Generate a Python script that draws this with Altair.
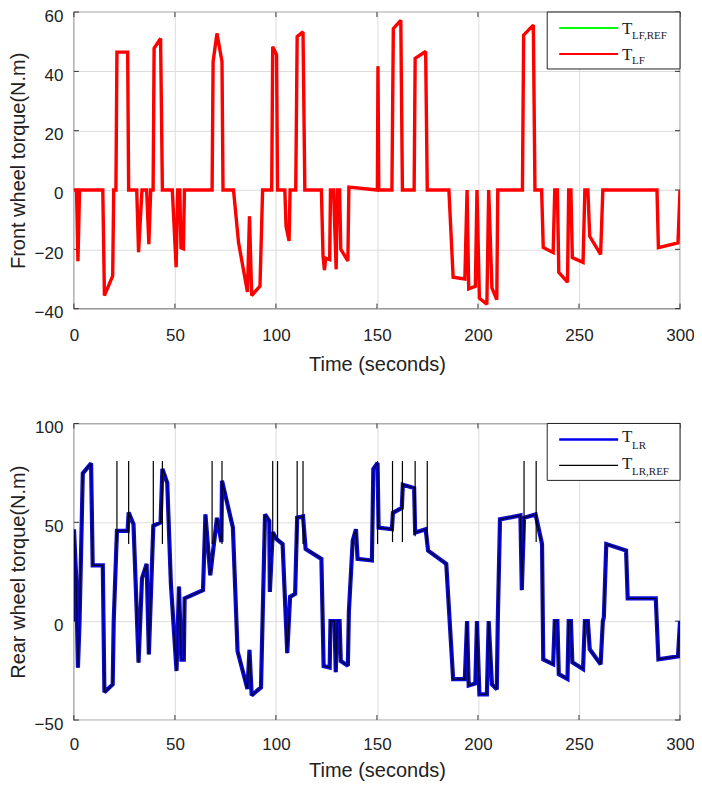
import altair as alt
import pandas as pd

# ---------------- data ----------------
front_time = [0, 1.3, 2.0, 2.8, 14.3, 15.1, 19.2, 19.7, 20.8,
              21.3, 26.6, 27.1, 31.1, 32.0, 33.7, 36.0, 37.1, 38.0, 39.2,
              39.7, 42.9, 43.8, 48.7, 50.6, 51.4, 52.4, 53.0, 54.2, 54.7, 68.4,
              68.9, 70.8, 73.3, 73.8, 79.0, 81.5, 85.9, 86.9, 88.0, 92.1, 93.4, 97.9,
              98.4, 100.3, 100.8, 104.4, 105.0, 106.5, 107.0, 109.8,
              110.5, 113.4, 114.3, 122.5, 123.3, 124.0, 124.6, 126.6, 127.0, 128.5, 129.8, 130.4, 131.5, 132.1, 135.6, 136.1,
              150.2, 150.5, 150.9, 157.4, 158.1, 161.8, 162.6, 168.4, 168.9, 174.1, 174.9, 185.6,
              187.7, 193.5, 194.6, 195.4, 198.7, 199.5, 200.7, 204.4, 205.3, 206.9, 209.3, 209.8, 222.0,
              222.6, 227.4, 228.2, 231.5, 232.3, 237.2, 238.0, 239.3, 240.0, 244.3, 244.9, 246.0, 246.7,
              252.0, 252.9, 254.4, 255.3, 260.7, 261.8, 288.6, 289.3, 299.0, 300.0]
front_torque = [0, 0, -24, 0, 0, -35.6, -29, 0, 0,
                46.5, 46.5, 0, 0, -21, 0, 0, -18.3, 0, 0,
                47.8, 51.1, 0, 0, -26, 0, 0, -19.5, -19.8, 0, 0,
                43.3, 52.8, 43.3, 0, 0, -17.8, -34.4, -8.9, -35.6, -32.4, 0, 0,
                48.3, 45.6, 0, 0, -12.2, -17.2, 0, 0,
                51.7, 53.3, 0, 0, -22.2, -27, -23, -23.5, 0, 0, -26.7, 0, 0, -20, -23.9, 1,
                0, 41.7, 0, 0, 54.4, 57.2, 0, 0, 44.4, 46.7, 0, 0,
                -29.4, -30, 0, -33.3, -32.5, 0, -36.5, -38.5, 0, -33, -37, 0, 0,
                52.2, 55.6, 0, 0, -19.4, -21.1, 0, 0, -27.8, -31.1, 0, 0, -22.8,
                -24.4, 0, 0, -15.6, -21.7, 0, 0, -19.4, -17.8, 0]

rear_time = [0, 0.05, 1.1, 2.0, 2.8, 4.4, 8.5, 9.3, 14.3, 15.1, 19.2, 19.7, 21.3, 26.6,
             27.1, 29.5, 32.0, 33.7, 36.0, 37.1, 39.3, 42.9, 43.8, 46.2,
             48.0, 50.8, 52.0, 53.2, 54.4, 54.8, 63.9, 65.1, 67.5,
             70.8, 73.0, 73.3, 78.7, 81.0, 85.9, 86.9, 88.0, 92.6, 94.6,
             96.7, 97.0, 98.4, 100.3, 103.3, 105.6, 107.0, 109.5,
             110.5, 113.4, 114.7, 122.5, 123.6, 126.6, 127.0, 129.0, 129.6, 130.4,
             131.5, 132.1, 135.6, 136.1, 138.0, 139.6, 140.4, 147.5,
             148.2, 150.3, 150.8, 157.4, 157.9, 162.3, 162.8, 168.4, 168.9, 174.1,
             175.3, 184.3, 187.7, 193.5, 194.6, 195.4, 198.7, 199.5, 200.7, 204.4,
             205.3, 206.9, 209.3, 209.8,
             210.9, 221.0, 221.7, 222.8, 228.5, 231.7, 232.3, 237.2, 238.0, 239.3,
             240.0, 244.3, 244.9, 246.0, 246.7, 252.0, 252.9, 254.4, 255.3, 260.7,
             261.8, 262.3, 263.5, 273.3, 274.1, 288.0, 289.3, 299.0, 300.0]
rear_torque = [0, 46.5, 22.3, -23.5, 0, 74.8, 79.8, 28.2, 28.2, -36, -32, 0, 45.7, 45.7,
               55, 49, -21, 21.7, 29, -16.8, 48.2, 50, 77, 70,
               19, -25.2, 17.5, -19.5, -19.5, 11.5, 15.7, 54, 23.2,
               52.3, 40, 71, 47.3, -15.2, -34.3, -14.5, -37.5, -33.5, 54,
               50.7, 14.8, 45, 41.5, 39, -16.2, 12.3, 13.8,
               52.3, 53, 36.5, 31.5, -22.7, -23.5, 0, 0, -25.8, 0,
               0, -20.2, -22.5, 4.8, 40.7, 46.5, 31.5, 30.7,
               77, 80, 47.3, 46.5, 54.8, 57.3, 69, 67.3, 44.8, 46.5,
               35.7, 29, -29.3, -29.3, 0, -32.5, -31.5, 0, -37, -37,
               0, -32, -34.5, 0,
               51.5, 53.5, 15.7, 52.3, 54, 39, -19.3, -21.8, 0, 0,
               -26.8, -29.2, 0, 0, -20.8, -24.2, 0, 0, -14.2, -21.8,
               0, 2, 39, 35.7, 11.5, 11.5, -19.3, -17.8, 0]

# saturation spikes of the rear reference signal
spike_time = [21.3, 27.1, 39.3, 43.8, 68.4, 73.3, 98.4, 100.8, 110.5, 113.4,
              150.3, 157.7, 162.6, 168.9, 174.9, 222.8, 228.8]
spike_high = [81, 81, 81, 81, 81, 81, 81, 81, 81, 81, 81, 81, 81, 81, 81, 81, 81]
spike_low = [40, 39, 43, 39, 39, 39, 40, 40, 39, 39, 39, 40, 40, 43, 39, 40, 40]

x_ticks = [0, 50, 100, 150, 200, 250, 300]
front_ticks = [-40, -20, 0, 20, 40, 60]
rear_ticks = [-50, 0, 50, 100]

# ---------------- tables ----------------
front = pd.DataFrame({"t": front_time, "v": front_torque, "i": range(len(front_time))})
rear = pd.DataFrame({"t": rear_time, "v": rear_torque, "i": range(len(rear_time))})
spikes = pd.DataFrame({"t": spike_time, "v": spike_high, "v2": spike_low})

W, H = 607, 297
FONT = "Liberation Sans"
SERIF = "Liberation Serif"
TXT = "#222222"
XT = "Time (seconds)"

xs = alt.Scale(domain=[0, 300], nice=False, zero=False)


def make_panel(ydomain, yticks, ytitle, xlabel_pad, xtitle_pad):
    ys = alt.Scale(domain=ydomain, nice=False, zero=False)
    yaxis = alt.Axis(values=yticks, title=ytitle, format="d")
    xaxis = alt.Axis(values=x_ticks, title=XT, format="d",
                     labelPadding=xlabel_pad, titlePadding=xtitle_pad)

    def X():
        return alt.X("t:Q", scale=xs, axis=xaxis, title=XT)

    def Y():
        return alt.Y("v:Q", scale=ys, axis=yaxis, title=ytitle)

    xt = pd.DataFrame({"t": x_ticks})
    yt = pd.DataFrame({"v": yticks})
    tick_style = dict(color="#333333", strokeWidth=1)
    deco = [
        alt.Chart(xt).mark_rule(**tick_style).encode(x=X(), y=alt.value(H), y2=alt.value(H - 5)),
        alt.Chart(xt).mark_rule(**tick_style).encode(x=X(), y=alt.value(0), y2=alt.value(5)),
        alt.Chart(yt).mark_rule(**tick_style).encode(y=Y(), x=alt.value(0), x2=alt.value(5)),
        alt.Chart(yt).mark_rule(**tick_style).encode(y=Y(), x=alt.value(W - 5), x2=alt.value(W)),
    ]

    def series(df, color, width):
        return alt.Chart(df).mark_line(color=color, strokeWidth=width, clip=True,
                                       strokeJoin="miter", strokeMiterLimit=2).encode(
            x=X(), y=Y(), order=alt.Order("i:Q"))

    def spikes_layer(df):
        return alt.Chart(df).mark_rule(color="#000000", strokeWidth=1.2).encode(
            x=X(), y=Y(), y2="v2:Q")

    return deco, series, spikes_layer


one = pd.DataFrame({"k": [1]})


def legend(entries):
    """entries: list of (color, width, line_y, T_baseline, sub_text, sub_baseline)"""
    layers = [alt.Chart(one).mark_rect(fill="white", stroke="#222222", strokeWidth=1).encode(
        x=alt.value(W - 133), x2=alt.value(W), y=alt.value(0), y2=alt.value(57))]
    for color, width, ly, tb, sub, sb in entries:
        layers.append(alt.Chart(one).mark_rule(color=color, strokeWidth=width).encode(
            x=alt.value(W - 121), x2=alt.value(W - 62), y=alt.value(ly)))
        layers.append(alt.Chart(one).mark_text(text="T", font=SERIF, fontSize=17, align="left",
                                               baseline="alphabetic", color=TXT).encode(
            x=alt.value(W - 58), y=alt.value(tb)))
        layers.append(alt.Chart(one).mark_text(text=sub, font=SERIF, fontSize=11, align="left",
                                               baseline="alphabetic", color=TXT).encode(
            x=alt.value(W - 48), y=alt.value(sb)))
    return layers


# ---------------- front panel ----------------
deco_f, series_f, _ = make_panel([-40, 60], front_ticks, "Front wheel torque(N.m)", 19, 11)
top = alt.layer(
    *deco_f,
    series_f(front, "#00dd00", 2),
    series_f(front, "#ff0000", 3.4),
    *legend([("#00ff00", 2, 16, 22, "LF,REF", 26.5),
             ("#ff0000", 2, 42, 48.5, "LF", 52)]),
).properties(width=W, height=H)

# ---------------- rear panel ----------------
deco_r, series_r, spikes_r = make_panel([-50, 100], rear_ticks, "Rear wheel torque(N.m)", 17, 8)
bottom = alt.layer(
    *deco_r,
    series_r(rear, "#0a0ad2", 4.2),
    series_r(rear, "#000022", 1.1),
    spikes_r(spikes),
    *legend([("#0000ee", 2.5, 16, 19, "LR", 25.5),
             ("#000000", 1.2, 42, 45.5, "LR,REF", 52)]),
).properties(width=W, height=H)

chart = alt.vconcat(top, bottom, spacing=115, bounds="flush").properties(
    padding={"left": -1, "top": -2.5, "right": -1, "bottom": 0},
    background="white",
).configure_view(
    stroke="#444444", strokeWidth=1.2
).configure_axis(
    labelFont=FONT, labelFontSize=17, labelColor=TXT,
    titleFont=FONT, titleFontSize=20, titleFontWeight="normal", titleColor=TXT,
    ticks=False, tickSize=0, domain=False,
    grid=True, gridColor="#dcdcdc", gridWidth=1,
).configure_axisX(
    labelFlush=False,
).configure_axisY(
    labelPadding=11, labelOffset=4, titleX=-45.5, labelFlush=False,
)

chart.save("out.html", embed_options={"renderer": "svg", "actions": False})
